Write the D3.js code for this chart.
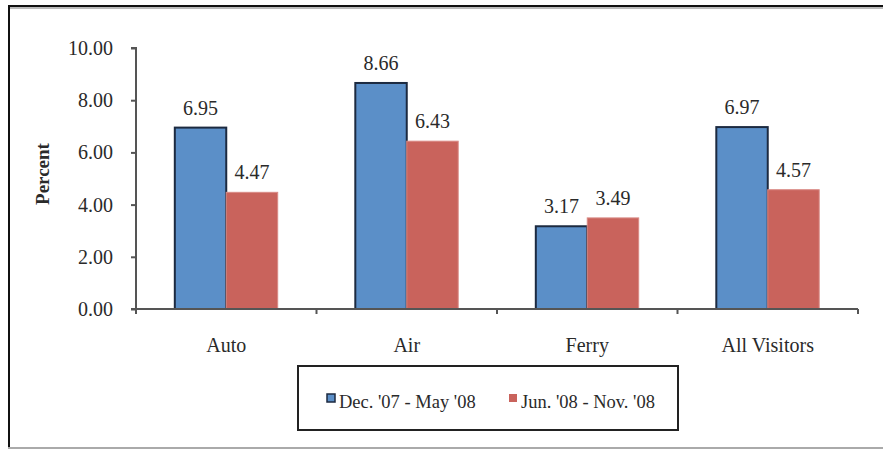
<!DOCTYPE html>
<html><head><meta charset="utf-8">
<script src="https://cdn.jsdelivr.net/npm/d3@7"></script>
<style>body{margin:0;background:#fff}svg{display:block}</style>
</head><body><svg id="c" width="883" height="450"></svg>
<script>
const categories = ["Auto", "Air", "Ferry", "All Visitors"];
const seriesNames = ["Dec. '07 - May '08", "Jun. '08 - Nov. '08"];
const series1 = [6.95, 8.66, 3.17, 6.97];
const series2 = [4.47, 6.43, 3.49, 4.57];
const yTicks = [0, 2, 4, 6, 8, 10];
const colors = ["#5b8fc8", "#c9635c"];
const FONT = "'Liberation Serif', 'Times New Roman', Tinos, 'DejaVu Serif', serif";
const TXT = "#2a2a2a";

const svg = d3.select("#c");
// frame
svg.append("line").attr("x1",8).attr("x2",883).attr("y1",7).attr("y2",7).attr("stroke","#bbb").attr("stroke-width",4);
svg.append("line").attr("x1",8).attr("x2",883).attr("y1",6).attr("y2",6).attr("stroke","#111").attr("stroke-width",2);
svg.append("line").attr("x1",9).attr("x2",9).attr("y1",5).attr("y2",448).attr("stroke","#111").attr("stroke-width",2);
svg.append("line").attr("x1",8).attr("x2",883).attr("y1",448).attr("y2",448).attr("stroke","#aaa").attr("stroke-width",2);

const x0 = d3.scaleBand().domain(categories).range([136, 858]).padding(0);
const groupW = x0.bandwidth() * 0.57;
const x1 = d3.scaleBand().domain([0,1]).range([0, groupW]).padding(0);
const y = d3.scaleLinear().domain([0, 10]).range([309, 48]);

const data = categories.map((c,i)=>({c, v:[series1[i], series2[i]]}));
const g = svg.append("g");
const groups = g.selectAll("g.grp").data(data).join("g")
  .attr("transform", d => `translate(${x0(d.c) + (x0.bandwidth()-groupW)/2},0)`);
groups.selectAll("rect").data(d => d.v.map((v,k)=>({v,k}))).join("rect")
  .attr("x", d => x1(d.k)).attr("width", x1.bandwidth())
  .attr("y", d => y(d.v)).attr("height", d => y(0) - y(d.v))
  .attr("fill", d => colors[d.k])
  .attr("stroke", d => d.k===0 ? "#1c2a40" : "#d98a85")
  .attr("stroke-width", d => d.k===0 ? 2 : 1);
groups.selectAll("text").data(d => d.v.map((v,k)=>({v,k}))).join("text")
  .attr("x", d => x1(d.k) + x1.bandwidth()/2)
  .attr("y", d => y(d.v) - 20).attr("dy","0.35em")
  .attr("text-anchor","middle").style("font-size","20px").style("font-family",FONT).style("fill",TXT)
  .text(d => d.v.toFixed(2));

// axes
const yAxis = d3.axisLeft(y).tickValues(yTicks).tickFormat(d3.format(".2f")).tickSize(5).tickPadding(18);
const ya = svg.append("g").attr("transform","translate(136,0)").call(yAxis);
ya.attr("font-family", null).attr("font-size", null);
ya.select(".domain").attr("stroke","#555").attr("stroke-width",2).attr("d","M-5,48H0V309H-5");
ya.selectAll(".tick line").attr("stroke","#555").attr("stroke-width",2);
ya.selectAll(".tick text").style("font-size","20px").style("font-family",FONT).style("fill",TXT);

const xAxis = d3.axisBottom(x0).tickSize(0).tickPadding(29);
const xa = svg.append("g").attr("transform","translate(0,309)").call(xAxis);
xa.attr("font-family", null).attr("font-size", null);
xa.select(".domain").attr("stroke","#555").attr("stroke-width",2).attr("d","M136,0H858");
xa.selectAll(".tick text").style("font-size","20px").style("font-family",FONT).style("fill",TXT);
const bounds = categories.map(c => x0(c)).concat([x0(categories[categories.length-1]) + x0.bandwidth()]);
xa.selectAll("line.b").data(bounds).join("line").attr("class","b")
  .attr("x1",d=>d).attr("x2",d=>d).attr("y1",0).attr("y2",5).attr("stroke","#555").attr("stroke-width",2);

// y label
svg.append("text").attr("transform","translate(42,174) rotate(-90)")
  .attr("text-anchor","middle").attr("dy","0.35em")
  .style("font-size","19px").style("font-weight","bold").style("font-family",FONT).style("fill",TXT).text("Percent");

// legend
svg.append("rect").attr("x",298).attr("y",366).attr("width",380).attr("height",64)
  .attr("fill","#fff").attr("stroke","#222").attr("stroke-width",2);
const legX = [327, 509];
seriesNames.forEach((n,k)=>{
  svg.append("rect").attr("x",legX[k]).attr("y",394).attr("width",8).attr("height",8)
    .attr("fill",colors[k]).attr("stroke", k===0 ? "#1c2a40" : "none").attr("stroke-width",1.5);
  svg.append("text").attr("x",legX[k]+12).attr("y",402).attr("dy","0.35em")
    .style("font-size","18.5px").style("font-family",FONT).style("fill",TXT).text(n);
});
</script></body></html>
